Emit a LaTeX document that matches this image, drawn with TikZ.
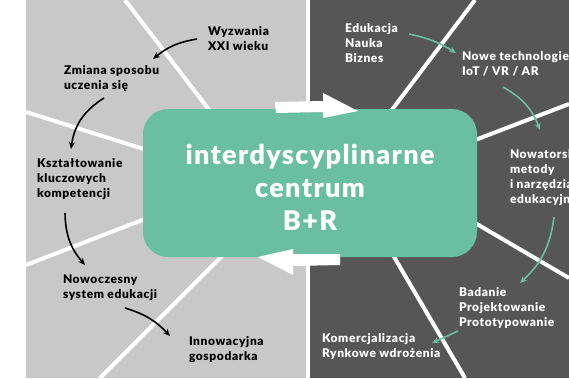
\documentclass[tikz,border=0pt]{standalone}
\usepackage{fontspec}
\setmainfont{Lato}[BoldFont={Lato Black}, BoldFeatures={LetterSpace=5}]
\usetikzlibrary{arrows.meta}
\definecolor{lg}{RGB}{200,200,200}
\definecolor{dg}{RGB}{87,86,86}
\definecolor{gr}{RGB}{106,191,163}

\begin{document}
\begin{tikzpicture}[
      x=1pt, y=-1pt,
      every node/.style={inner sep=0, outer sep=0},
      txt/.style={anchor=north west, align=left, font=\fontsize{12}{15}\selectfont\bfseries},
      dtxt/.style={txt, text=black},
      wtxt/.style={txt, text=white},
      sep/.style={white, line width=4pt},
      blk/.style={black, line width=1.6pt, -{Stealth[length=7pt,width=6pt]}},
      grn/.style={gr, line width=1.6pt, -{Stealth[length=7pt,width=6pt]}}]

        \useasboundingbox (0,0) rectangle (569,378);
        \clip (0,0) rectangle (569,378);

        % panels
        \fill[white] (0,0) rectangle (569,378);
        \fill[lg] (26,0) rectangle (306,378);
        \fill[dg] (310,0) rectangle (569,378);

        % white rays
        \draw[sep] (125,0) -- (213,115);
        \draw[sep] (26,112) -- (150,151);
        \draw[sep] (26,265) -- (150,217);
        \draw[sep] (100,378) -- (225,253);
        \draw[sep] (475,0) -- (388,115);
        \draw[sep] (569,104) -- (470,142);
        \draw[sep] (569,278) -- (470,220);
        \draw[sep] (465,378) -- (390,250);

        \node[fill=gr, rounded corners=25pt, minimum width=334pt, minimum height=148pt]
              (centrum) at (310,183) {};
        \node[text=white, align=center, font=\fontsize{27}{33}\selectfont\bfseries]
              (nazwa) at (310,187) {interdyscyplinarne\\centrum\\B+R};

        % big arrows
        \fill[white] (275,102) -- (323,101) -- (323,93) -- (358,111)
                     -- (323,118) -- (323,112) -- (276,113) -- cycle;
        \fill[white] (340,254) -- (293,254) -- (293,249) -- (258,257)
                     -- (293,275) -- (293,266) -- (340,265) -- cycle;

        % left side
        \node[dtxt] (wyzwania) at (208,26.5) {Wyzwania\\XXI wieku};
        \node[dtxt] (zmiana)   at (64,65.5)  {Zmiana sposobu\\uczenia się};
        \node[dtxt] (ksztalt)  at (37,158.5) {Kształtowanie\\kluczowych\\kompetencji};
        \node[dtxt] (nowocz)   at (63,274.5) {Nowoczesny\\system edukacji};
        \node[dtxt] (innow)    at (189,336.5) {Innowacyjna\\gospodarka};

        % right side
        \node[wtxt] (edukacja) at (345,23.5)  {Edukacja\\Nauka\\Biznes};
        \node[wtxt] (nowetech) at (462,51.5)  {Nowe technologie\\IoT / VR / AR};
        \node[wtxt] (nowator)  at (510,149.5) {Nowatorskie\\metody\\i narzędzia\\edukacyjne};
        \node[wtxt] (badanie)  at (459,287.5) {Badanie\\Projektowanie\\Prototypowanie};
        \node[wtxt] (komerc)   at (322,333.5) {Komercjalizacja\\Rynkowe wdrożenia};

        \draw[blk] ([xshift=-11pt,yshift=-12.5pt]wyzwania.north west) to[bend right=15]
                   ([xshift=89pt,yshift=6.5pt]zmiana.north west);
        \draw[blk] ([xshift=40pt,yshift=-32.5pt]zmiana.north west) to[bend right=25]
                   ([xshift=34pt,yshift=9.5pt]ksztalt.north west);
        \draw[blk] ([xshift=28pt,yshift=-54.5pt]ksztalt.north west) to[bend right=20]
                   ([xshift=22pt,yshift=9.5pt]nowocz.north west);
        \draw[blk] ([xshift=62pt,yshift=-33.5pt]nowocz.north west) to[bend left=15]
                   ([xshift=-19pt,yshift=0.5pt]innow.north west);

        \draw[grn] ([xshift=64pt,yshift=-10.5pt]edukacja.north west) to[bend left=10]
                   ([xshift=-6pt,yshift=-1.5pt]nowetech.north west);
        \draw[grn] ([xshift=41pt,yshift=-35.5pt]nowetech.north west) to[bend left=20]
                   ([xshift=30pt,yshift=19.5pt]nowator.north west);
        \draw[grn] ([xshift=44pt,yshift=-67.5pt]nowator.north west) to[bend left=20]
                   ([xshift=61pt,yshift=4.5pt]badanie.north west);
        \draw[grn] ([xshift=-1pt,yshift=-43.5pt]badanie.north west) --
                   ([xshift=110pt,yshift=-9.5pt]komerc.north west);

      \end{tikzpicture}
\end{document}
